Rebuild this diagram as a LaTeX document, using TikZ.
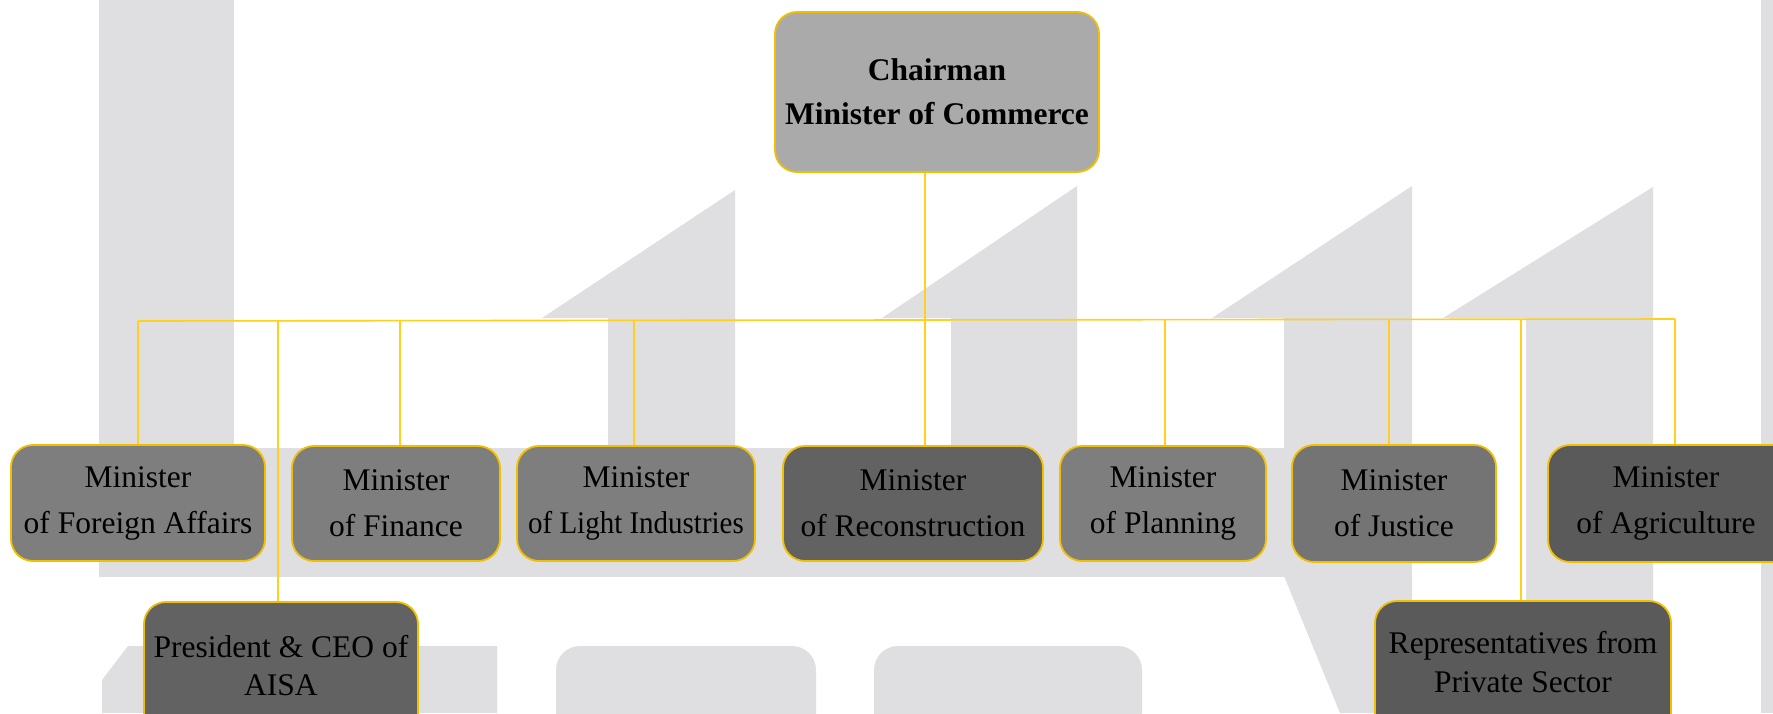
\documentclass[tikz,border=0pt]{standalone}
\usepackage{fontspec}
\setmainfont{Liberation Serif}
\usetikzlibrary{calc}
\definecolor{wm}{RGB}{223,223,225}
\definecolor{gold}{RGB}{240,192,0}
\definecolor{wirec}{RGB}{255,208,30}
\definecolor{cchair}{RGB}{170,170,170}
\definecolor{cmid}{RGB}{126,126,126}
\definecolor{cmidd}{RGB}{116,116,116}
\definecolor{cdark}{RGB}{98,98,98}
\definecolor{cdarker}{RGB}{90,90,90}
\begin{document}
\begin{tikzpicture}[x=1pt,y=-1pt,
  box/.style={draw=gold, line width=1.8pt, rounded corners=22pt, align=center, inner sep=0pt, text=black, font=\fontsize{31.5}{46}\selectfont},
  lowbox/.style={box, font=\fontsize{31.5}{38.5}\selectfont},
  wire/.style={draw=wirec, line width=1.6pt},
  wmark/.style={fill=wm}]
\useasboundingbox (0,0) rectangle (1773,713);
\clip (0,0) rectangle (1773,713);
% background watermark
\fill[white] (0,0) rectangle (1773,713);
\fill[wmark] (99,0) rectangle (234,577);
\fill[wmark] (99,448) rectangle (1412,577);
\fill[wmark] (608,448) -- (608,318) -- (542,318) -- (735,190) -- (735,448) -- cycle;
\fill[wmark] (951,448) -- (951,318) -- (882,318) -- (1077,186) -- (1077,448) -- cycle;
\fill[wmark] (1284,448) -- (1284,318) -- (1212,318) -- (1412,186) -- (1412,448) -- cycle;
\fill[wmark] (1284,576) -- (1340,713) -- (1412,713) -- (1412,576) -- cycle;
\fill[wmark] (1526,713) -- (1526,318) -- (1443,318) -- (1653,187) -- (1653,713) -- cycle;
\fill[wmark] (1761,0) rectangle (1773,713);
\fill[wmark] (102,713) -- (102,680) -- (128,646) -- (497,646) -- (497,713) -- cycle;
\fill[wmark, rounded corners=24pt] (556,740) -- (556,646) -- (816,646) -- (816,740) -- cycle;
\fill[wmark, rounded corners=24pt] (874,740) -- (874,646) -- (1142,646) -- (1142,740) -- cycle;
% bus coordinates
\coordinate (bFA) at (138,321);
\coordinate (bAISA) at (278,321);
\coordinate (bFin) at (400,321);
\coordinate (bLight) at (634,321);
\coordinate (bChair) at (925,320);
\coordinate (bPlan) at (1165,320);
\coordinate (bJust) at (1389,320);
\coordinate (bPS) at (1521,319);
\coordinate (bAgr) at (1675,319);
% boxes
\node[box, fill=cchair, minimum width=324pt, minimum height=160pt, font=\bfseries\fontsize{31.5}{44}\selectfont] (chair) at (937,92) {Chairman\\Minister of Commerce};
\node[box, fill=cmid, minimum width=254pt, minimum height=116pt] (fa) at (138,503) {Minister\\of Foreign Affairs};
\node[box, fill=cmid, minimum width=208pt, minimum height=115pt] (fin) at (396,503.5) {Minister\\of Finance};
\node[box, fill=cmid, minimum width=238pt, minimum height=115pt] (light) at (636,503.5) {Minister\\\scalebox{0.92}[1]{of Light Industries}};
\node[box, fill=cdark, minimum width=260pt, minimum height=115pt] (recon) at (913,503.5) {Minister\\of Reconstruction};
\node[box, fill=cmid, minimum width=206pt, minimum height=115pt] (plan) at (1163,503.5) {Minister\\of Planning};
\node[box, fill=cmidd, minimum width=204pt, minimum height=117pt] (just) at (1394,503.5) {Minister\\of Justice};
\node[box, fill=cdarker, minimum width=280pt, minimum height=117pt] (agr) at (1688,503.5) {Minister\hspace*{44pt}\\of Agriculture\hspace*{44pt}};
\node[lowbox, fill=cdark, minimum width=274pt, minimum height=170pt] (aisa) at (281,687) {President \& CEO of\\AISA\rule[-43pt]{0pt}{43pt}};
\node[lowbox, fill=cdarker, minimum width=296pt, minimum height=165pt] (ps) at (1523,683.5) {Representatives from\\Private Sector\rule[-43pt]{0pt}{43pt}};
% connectors
\draw[wire] (bFA) -- (bAgr);
\draw[wire] (chair.south -| bChair) -- (recon.north -| bChair);
\draw[wire] (bFA) -- (fa.north -| bFA);
\draw[wire] (bAISA) -- (aisa.north -| bAISA);
\draw[wire] (bFin) -- (fin.north -| bFin);
\draw[wire] (bLight) -- (light.north -| bLight);
\draw[wire] (bPlan) -- (plan.north -| bPlan);
\draw[wire] (bJust) -- (just.north -| bJust);
\draw[wire] (bPS) -- (ps.north -| bPS);
\draw[wire] (bAgr) -- (agr.north -| bAgr);
\end{tikzpicture}
\end{document}
